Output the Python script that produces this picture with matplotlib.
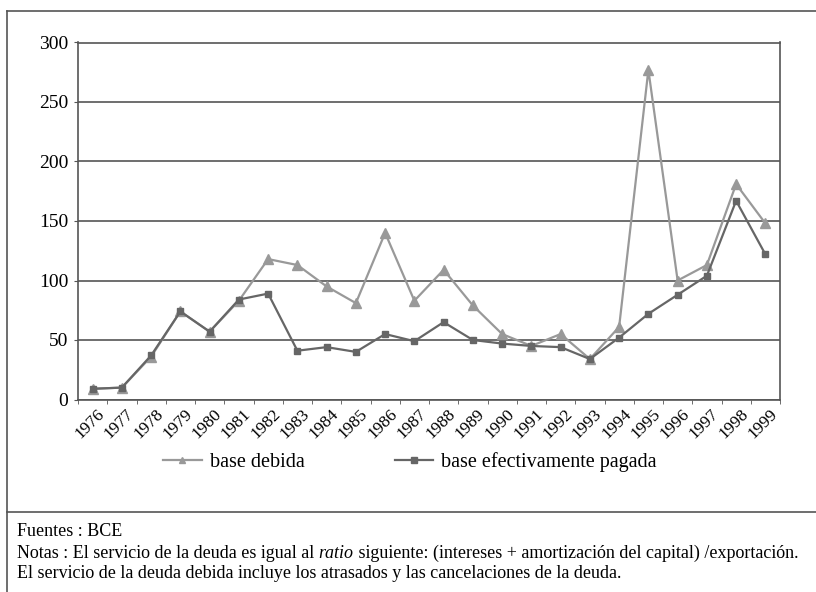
import numpy as np
import matplotlib
matplotlib.use("Agg")
import matplotlib.pyplot as plt
import matplotlib.transforms as mtransforms
from matplotlib.lines import Line2D

plt.rcParams['font.family'] = ['Liberation Serif', 'DejaVu Serif']

years = [str(y) for y in range(1976, 2000)]
base_debida = [9, 10, 36, 74, 57, 83, 118, 113, 95, 81, 140, 83, 109, 79, 55, 45, 55, 34, 61, 277,
               100, 113, 181, 148]
base_pagada = [9, 10, 37, 74, 57, 84, 89, 41, 44, 40, 55, 49, 65, 50, 47, 45, 44, 34, 52, 72,
               88, 104, 167, 122]
labels = ["base debida", "base efectivamente pagada"]

c_light = '#999999'
c_dark = '#666666'
c_frame = '#555555'

fig = plt.figure(figsize=(8.16, 5.92), dpi=100)
ax = fig.add_axes([78 / 816, 1 - 399.5 / 592, 702 / 816, 357 / 592])

x = np.arange(len(years))
ax.plot(x, base_debida, color=c_light, lw=1.6, marker='^', ms=7, label=labels[0], zorder=3)
ax.plot(x, base_pagada, color=c_dark, lw=1.6, marker='s', ms=4.5, label=labels[1], zorder=4)

ax.set_xlim(-0.5, len(years) - 0.5)
ax.set_ylim(0, 300)
ax.set_yticks(range(0, 301, 50))
ax.yaxis.grid(True, color=c_frame, lw=1.2)
ax.set_axisbelow(True)
for s in ax.spines.values():
    s.set_color(c_frame)
    s.set_linewidth(1.2)
ax.tick_params(axis='y', length=3, color=c_frame, labelsize=14, pad=4)

ax.set_xticks(x)
ax.set_xticks(np.arange(-0.5, len(years)), minor=True)
ax.tick_params(axis='x', which='major', length=0, labelsize=12.5, pad=9)
ax.tick_params(axis='x', which='minor', length=3, color=c_frame)
offset = mtransforms.ScaledTranslation(7 / 72, 0, fig.dpi_scale_trans)
ax.set_xticklabels(years, rotation=45, ha='right', va='center', rotation_mode='anchor')
for lab in ax.get_xticklabels():
    lab.set_transform(lab.get_transform() + offset)

leg = fig.legend(loc='center', bbox_to_anchor=(410 / 816, 1 - 462 / 592), ncol=2, frameon=False,
                 fontsize=14.5, handlelength=1.9, columnspacing=4.5, handletextpad=0.4)
for h in leg.legend_handles:
    h.set_markersize(4)

# outer frame
fig.add_artist(Line2D([7 / 816, 7 / 816], [0, 1 - 11 / 592], color=c_frame, lw=1.2))
fig.add_artist(Line2D([7 / 816, 1], [1 - 11 / 592, 1 - 11 / 592], color=c_frame, lw=1.2))
fig.add_artist(Line2D([7 / 816, 1], [1 - 512 / 592, 1 - 512 / 592], color=c_frame, lw=1.2))

fs = 13
fig.text(17 / 816, 1 - 532 / 592, "Fuentes : BCE", fontsize=fs, va='center')
fig.text(17 / 816, 1 - 573 / 592,
         "El servicio de la deuda debida incluye los atrasados y las cancelaciones de la deuda.",
         fontsize=fs, va='center')
t1 = fig.text(17 / 816, 1 - 553 / 592, "Notas : El servicio de la deuda es igual al ",
              fontsize=fs, va='center')
fig.canvas.draw()
r = fig.canvas.get_renderer()
bb = t1.get_window_extent(r)
t2 = fig.text(bb.x1 / fig.bbox.width, 1 - 553 / 592, "ratio", fontsize=fs, style='italic', va='center')
bb2 = t2.get_window_extent(r)
fig.text(bb2.x1 / fig.bbox.width, 1 - 553 / 592,
         " siguiente: (intereses + amortización del capital) /exportación.",
         fontsize=fs, va='center')

fig.savefig("out.png", dpi=100)
